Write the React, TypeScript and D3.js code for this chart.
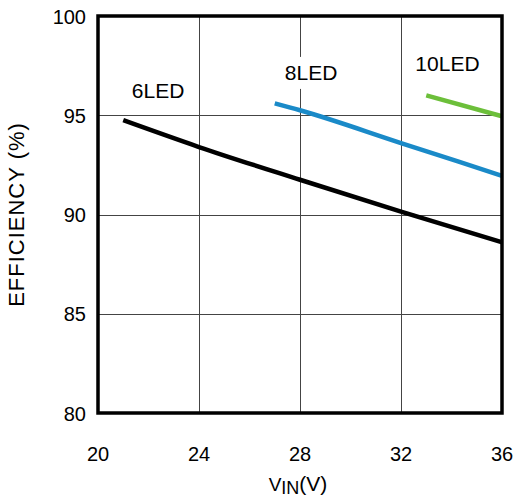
import React from "react";
import * as d3 from "d3";

const xTicks = [20, 24, 28, 32, 36];
const yTicks = [80, 85, 90, 95, 100];

const led6X = [21, 24, 28, 32, 36];
const led6Y = [94.75, 93.4, 91.75, 90.15, 88.6];
const led8X = [27, 28, 32, 36];
const led8Y = [95.6, 95.25, 93.6, 91.95];
const led10X = [33, 36];
const led10Y = [96.0, 94.95];

const seriesNames = ["6LED", "8LED", "10LED"];
const seriesColors = ["#000000", "#1a8ac8", "#6cbf3a"];
// label anchor positions in data units (x, y)
const labelX = [22.38, 28.44, 33.84];
const labelY = [95.87, 96.78, 97.23];

export default function App() {
  const W = 516, H = 502;
  const left = 98, right = 502, top = 16, bottom = 413;
  const x = d3.scaleLinear().domain([20, 36]).range([left, right]);
  const y = d3.scaleLinear().domain([80, 100]).range([bottom, top]);
  const line = d3.line<[number, number]>().x(d => x(d[0])).y(d => y(d[1])).curve(d3.curveMonotoneX);
  const series = [
    led6X.map((v, i) => [v, led6Y[i]] as [number, number]),
    led8X.map((v, i) => [v, led8Y[i]] as [number, number]),
    led10X.map((v, i) => [v, led10Y[i]] as [number, number]),
  ];
  const font = "Liberation Sans, Arial, sans-serif";
  return (
    <svg width={W} height={H} style={{ position: "absolute", left: 0, top: 0, background: "#fff" }} fontFamily={font}>
      <rect x={0} y={0} width={W} height={H} fill="#fff" />
      {xTicks.slice(1, -1).map(t => (
        <line key={"gx" + t} x1={Math.round(x(t)) + 0.5} x2={Math.round(x(t)) + 0.5} y1={top} y2={bottom} stroke="#444" strokeWidth={1} />
      ))}
      {yTicks.slice(1, -1).map(t => (
        <line key={"gy" + t} x1={left} x2={right} y1={Math.round(y(t)) + 0.5} y2={Math.round(y(t)) + 0.5} stroke="#444" strokeWidth={1} />
      ))}
      {seriesNames.map((n, i) => {
        const cx = x(labelX[i]);
        const cy = y(labelY[i]);
        return (
          <g key={n}>
            <rect x={cx - 32} y={cy - 23} width={64} height={32} fill="#fff" />
            <text x={cx} y={cy} fontSize={21} textAnchor="middle" fill="#000">{n}</text>
          </g>
        );
      })}
      {series.map((s, i) => (
        <path key={i} d={line(s) || ""} fill="none" stroke={seriesColors[i]} strokeWidth={4.5} />
      ))}
      <rect x={left} y={top} width={right - left} height={bottom - top} fill="none" stroke="#000" strokeWidth={3.5} />
      {xTicks.map(t => (
        <text key={"tx" + t} x={x(t)} y={461} fontSize={20} textAnchor="middle" fill="#000">{t}</text>
      ))}
      {yTicks.map(t => (
        <text key={"ty" + t} x={86} y={y(t) + 7.5} fontSize={20} textAnchor="end" fill="#000">{t}</text>
      ))}
      <text x={298} y={491} fontSize={21} textAnchor="middle" fill="#000">
        <tspan fontSize={19}>V</tspan>
        <tspan fontSize={18} dy={3}>IN</tspan>
        <tspan dy={-3}>(V)</tspan>
      </text>
      <text transform={`translate(24,${(top + bottom) / 2}) rotate(-90)`} fontSize={22} letterSpacing={1} textAnchor="middle" fill="#000">
        EFFICIENCY (%)
      </text>
    </svg>
  );
}
